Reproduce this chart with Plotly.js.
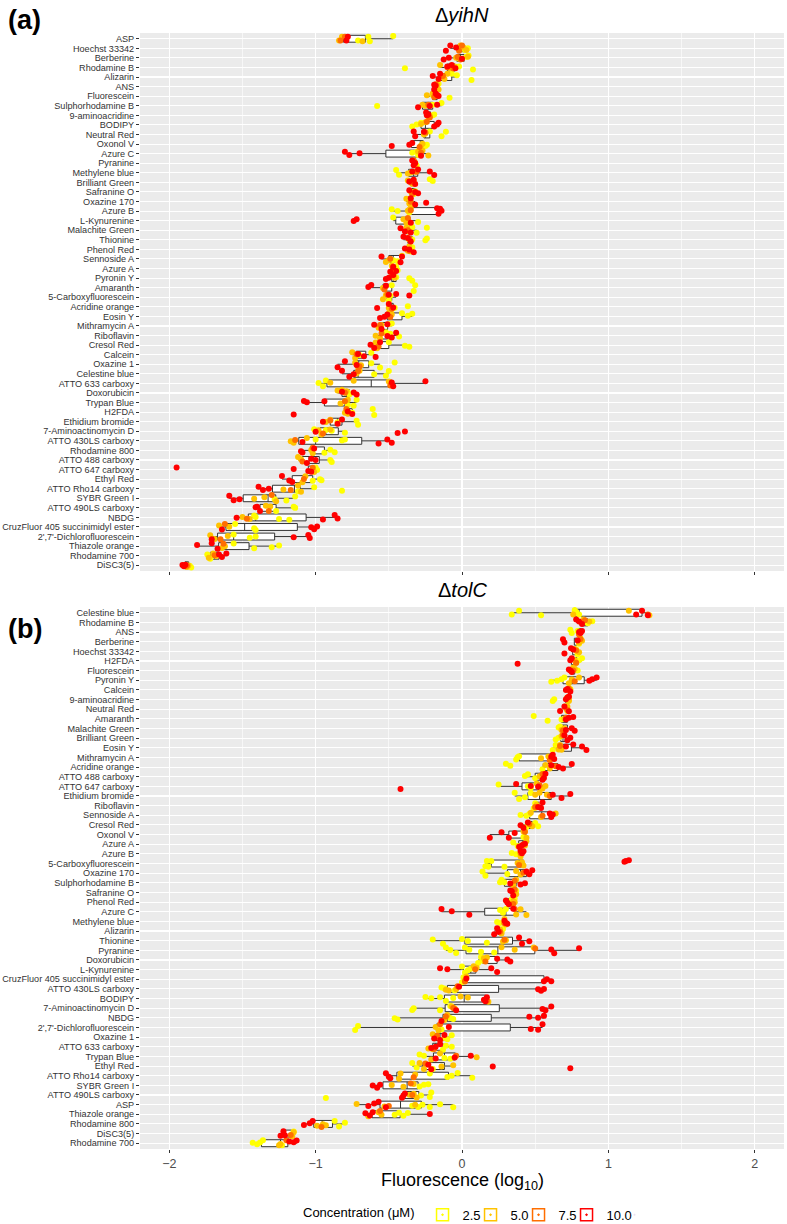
<!DOCTYPE html>
<html>
<head>
<meta charset="utf-8">
<script src="https://cdn.plot.ly/plotly-3.0.1.min.js"></script>
<style>html,body{margin:0;padding:0;background:#fff;}#chart{width:787px;height:1224px;}</style>
</head>
<body>
<div id="chart"></div>
<script>
// ---------- categories ----------
const dyesYihN = ["ASP","Hoechst 33342","Berberine","Rhodamine B","Alizarin","ANS","Fluorescein","Sulphorhodamine B","9-aminoacridine","BODIPY","Neutral Red","Oxonol V","Azure C","Pyranine","Methylene blue","Brilliant Green","Safranine O","Oxazine 170","Azure B","L-Kynurenine","Malachite Green","Thionine","Phenol Red","Sennoside A","Azure A","Pyronin Y","Amaranth","5-Carboxyfluorescein","Acridine orange","Eosin Y","Mithramycin A","Riboflavin","Cresol Red","Calcein","Oxazine 1","Celestine blue","ATTO 633 carboxy","Doxorubicin","Trypan Blue","H2FDA","Ethidium bromide","7-Aminoactinomycin D","ATTO 430LS carboxy","Rhodamine 800","ATTO 488 carboxy","ATTO 647 carboxy","Ethyl Red","ATTO Rho14 carboxy","SYBR Green I","ATTO 490LS carboxy","NBDG","CruzFluor 405 succinimidyl ester","2',7'-Dichlorofluorescein","Thiazole orange","Rhodamine 700","DiSC3(5)"];

const dyesTolC = ["Celestine blue","Rhodamine B","ANS","Berberine","Hoechst 33342","H2FDA","Fluorescein","Pyronin Y","Calcein","9-aminoacridine","Neutral Red","Amaranth","Malachite Green","Brilliant Green","Eosin Y","Mithramycin A","Acridine orange","ATTO 488 carboxy","ATTO 647 carboxy","Ethidium bromide","Riboflavin","Sennoside A","Cresol Red","Oxonol V","Azure A","Azure B","5-Carboxyfluorescein","Oxazine 170","Sulphorhodamine B","Safranine O","Phenol Red","Azure C","Methylene blue","Alizarin","Thionine","Pyranine","Doxorubicin","L-Kynurenine","CruzFluor 405 succinimidyl ester","ATTO 430LS carboxy","BODIPY","7-Aminoactinomycin D","NBDG","2',7'-Dichlorofluorescein","Oxazine 1","ATTO 633 carboxy","Trypan Blue","Ethyl Red","ATTO Rho14 carboxy","SYBR Green I","ATTO 490LS carboxy","ASP","Thiazole orange","Rhodamine 800","DiSC3(5)","Rhodamine 700"];

const concLabels = ["2.5","5.0","7.5","10.0"];
const concColors = ["#FFFF00","#FFC300","#FF6E00","#FF0000"];

// ---------- ΔyihN values (log10 fluorescence), one list per dye ----------
const yihN_2_5 = [[-0.71,-0.64,-0.47,-0.63],[0.04,0.02,0.0],[-0.02,0.045,0.03],[-0.39,-0.02,0.075],[-0.07,-0.035,0.065],[-0.17,-0.16],[-0.2,-0.085,-0.18],[-0.58,-0.14,-0.2],[-0.2,-0.19],[-0.34,-0.31,-0.28],[-0.22,-0.14,-0.11],[-0.24,-0.25],[-0.34,-0.31,-0.3],[-0.32,-0.31],[-0.45,-0.43,-0.35],[-0.22,-0.2,-0.33],[-0.33,-0.32],[-0.35,-0.36],[-0.48,-0.44,-0.36],[-0.35,-0.30,-0.47],[-0.34,-0.31,-0.24],[-0.24,-0.25,-0.34],[-0.35,-0.34],[-0.44,-0.41,-0.47],[-0.44,-0.45],[-0.36,-0.34,-0.45],[-0.48,-0.33,-0.32],[-0.5,-0.49],[-0.37,-0.48,-0.46],[-0.41,-0.37,-0.34],[-0.48,-0.5],[-0.52,-0.43,-0.49],[-0.50,-0.39,-0.36],[-0.62,-0.7],[-0.62,-0.56,-0.46],[-0.6,-0.52,-0.50],[-0.98,-0.95,-0.93],[-0.77,-0.78],[-0.74,-0.72,-0.78],[-0.61,-0.60,-0.75],[-0.72,-0.71,-0.85],[-1.01,-0.93,-0.89,-0.80],[-1.0,-0.82,-0.80],[-0.94,-0.9,-0.87],[-0.9,-0.89],[-1.0,-0.99],[-1.02,-0.97,-0.96],[-1.01,-0.82,-1.12],[-1.2,-1.14,-1.28],[-1.27,-1.15,-1.14],[-1.42,-1.41,-1.25,-1.18],[-1.55,-1.42,-1.41],[-1.56,-1.41,-1.45],[-1.56,-1.42,-1.30,-1.25],[-1.74,-1.72],[-1.86,-1.85]];
const yihN_5_0 = [[-0.84,-0.82,-0.68],[0.01,0.03,-0.01],[-0.04,0.04,0.0],[-0.15,-0.08,-0.05],[-0.12,-0.1],[-0.17,-0.16],[-0.24,-0.2],[-0.27,-0.25],[-0.23,-0.22],[-0.28,-0.25],[-0.26,-0.25],[-0.28,-0.27],[-0.27,-0.23,-0.3],[-0.33,-0.32],[-0.37,-0.32],[-0.37,-0.34],[-0.35,-0.34],[-0.38,-0.36],[-0.37,-0.35,-0.36],[-0.38,-0.37,-0.4],[-0.38,-0.36],[-0.37,-0.36],[-0.36,-0.37],[-0.52,-0.50],[-0.48,-0.47],[-0.48,-0.46],[-0.54,-0.52],[-0.54,-0.52],[-0.5,-0.49],[-0.5,-0.48],[-0.57,-0.55],[-0.59,-0.56],[-0.59,-0.58],[-0.75,-0.73],[-0.73,-0.69,-0.71],[-0.72,-0.70],[-0.9,-0.74,-0.5],[-0.85,-0.82,-0.79],[-0.83,-0.78],[-0.8,-0.78],[-0.93,-0.9],[-0.98,-0.96,-0.9],[-1.17,-1.15,-1.06],[-1.03,-1.02],[-1.12,-1.1],[-1.02,-1.01],[-1.09,-1.07],[-1.22,-1.12,-1.1],[-1.42,-1.35,-1.27],[-1.34,-1.31],[-1.5,-1.45],[-1.66,-1.59],[-1.72,-1.69,-1.6],[-1.64,-1.62],[-1.73,-1.70,-1.68],[-1.88,-1.87]];
const yihN_7_5 = [[-0.83,-0.80],[-0.02,0.0],[-0.03,-0.01],[-0.1,-0.06],[-0.13],[-0.18],[-0.19],[-0.23],[-0.22],[-0.24],[-0.25],[-0.29],[-0.28],[-0.33],[-0.31],[-0.35],[-0.34],[-0.35],[-0.35],[-0.37],[-0.37],[-0.36],[-0.36],[-0.49],[-0.47],[-0.47],[-0.53],[-0.51],[-0.48],[-0.49],[-0.56],[-0.55],[-0.57],[-0.72],[-0.7],[-0.71],[-0.49],[-0.8],[-0.8],[-0.79],[-0.9],[-0.95],[-1.14],[-1.02],[-1.09],[-1.02],[-1.08],[-1.17],[-1.3],[-1.32],[-1.47],[-1.62],[-1.65],[-1.63],[-1.69],[-1.88]];
const yihN_10_0 = [[-0.78,-0.79],[-0.11,-0.08,-0.04],[-0.125,-0.09,0.0],[-0.10,-0.045,-0.07],[-0.2,-0.15,-0.16],[-0.19,-0.18,-0.19],[-0.17,-0.16,-0.18],[-0.30,-0.22,-0.17],[-0.245,-0.24,-0.23],[-0.19,-0.17,-0.16],[-0.33,-0.32,-0.26],[-0.48,-0.36,-0.34],[-0.8,-0.77,-0.70,-0.28],[-0.34,-0.32,-0.33],[-0.34,-0.30,-0.22,-0.19],[-0.36,-0.33,-0.32],[-0.36,-0.32,-0.30],[-0.35,-0.32,-0.245],[-0.17,-0.15,-0.14,-0.16],[-0.74,-0.72,-0.35],[-0.42,-0.39,-0.35],[-0.40,-0.37,-0.35],[-0.39,-0.36,-0.33],[-0.55,-0.42,-0.41],[-0.49,-0.47,-0.45],[-0.52,-0.50,-0.47],[-0.64,-0.62,-0.52],[-0.5,-0.45,-0.36],[-0.58,-0.50,-0.47],[-0.56,-0.53,-0.51],[-0.6,-0.55,-0.51],[-0.51,-0.48,-0.45],[-0.625,-0.6,-0.56],[-0.71,-0.67,-0.59],[-0.85,-0.80,-0.72],[-0.82,-0.77,-0.74],[-0.48,-0.47,-0.25],[-0.82,-0.74,-0.72],[-1.08,-1.06,-0.94],[-1.15,-0.78,-0.75],[-0.95,-0.85,-0.82],[-1.0,-0.44,-0.39],[-1.09,-0.57,-0.51,-0.48],[-1.1,-1.09,-1.01],[-1.06,-1.03,-1.0],[-1.95,-1.15,-1.05,-1.03],[-1.23,-1.18,-1.16],[-1.39,-1.36,-1.32],[-1.59,-1.56,-1.52],[-1.41,-1.40,-1.38],[-1.54,-0.95,-0.87,-0.85],[-1.64,-1.03,-1.01,-0.99],[-1.71,-1.15,-1.05,-1.04],[-1.81,-1.71,-1.67],[-1.66,-1.64,-1.61],[-1.91,-1.90,-1.89]];

// ---------- ΔtolC values ----------
const tolC_2_5 = [[0.34,0.39,0.54,0.77,0.78,0.80],[0.85,0.89,0.86],[0.74,0.75,0.79],[0.81,0.80],[0.78,0.79],[0.80,0.82],[0.77,0.79],[0.61,0.65,0.68,0.70],[0.73,0.74],[0.62,0.63,0.72],[0.71,0.72],[0.49,0.585,0.68],[0.66,0.67],[0.64,0.66],[0.62,0.64],[0.37,0.38,0.39],[0.30,0.33,0.55],[0.43,0.45,0.50],[0.25,0.45,0.47],[0.36,0.39,0.43,0.47],[0.49,0.50],[0.40,0.44,0.46],[0.44,0.50,0.52],[0.42,0.43],[0.35,0.38],[0.34,0.37],[0.16,0.17,0.18,0.20,0.29],[0.14,0.16,0.31],[0.26,0.27,0.29],[0.36,0.37],[0.34,0.36],[0.26,0.28,0.30],[0.24,0.26],[0.27,0.28],[-0.20,-0.13,0.0,0.04,0.17],[-0.11,-0.08,-0.04,0.02,0.05,0.13,0.22],[0.11,0.13,0.14],[0.0,0.02,0.04,0.06],[0.0,0.01],[-0.14,-0.12,-0.05],[-0.25,-0.21,-0.15,-0.11,-0.06],[-0.34,-0.33,-0.15,-0.08],[-0.46,-0.44,-0.08,-0.06],[-0.73,-0.71,-0.14],[-0.10,-0.07,-0.12],[-0.11,-0.07,-0.13],[-0.29,-0.26,-0.08,-0.12],[-0.34,-0.31,-0.2],[-0.22,-0.10,-0.07,-0.03,0.07],[-0.29,-0.26,-0.23],[-0.93,-0.28,-0.22,-0.21],[-0.34,-0.30,-0.27,-0.22,-0.15,-0.06],[-0.46,-0.43,-0.40,-0.37],[-0.87,-0.84,-0.80],[-1.15,-1.16],[-1.43,-1.40,-1.38,-1.36,-1.23]];
const tolC_5_0 = [[0.76,1.14,1.28],[0.83,0.87],[0.80,0.81],[0.80,0.82],[0.77,0.80],[0.78,0.77],[0.76,0.77],[0.73,0.75,0.80],[0.73,0.74],[0.73,0.73],[0.71,0.72],[0.70,0.72],[0.68,0.70],[0.68,0.69],[0.66,0.67,0.68],[0.54,0.59],[0.57,0.60],[0.53,0.55],[0.51,0.55,0.57],[0.50,0.53,0.58],[0.50,0.51],[0.47,0.54,0.64],[0.47,0.48],[0.42,0.44],[0.43,0.44],[0.40,0.41],[0.38,0.40,0.41,0.42],[0.37,0.40],[0.35,0.37],[0.36,0.37],[0.35,0.36],[0.37,0.40,0.44],[0.29,0.30],[0.26,0.27],[0.28,0.30],[0.27,0.36,0.49],[0.15,0.17],[0.08,0.10],[0.02,0.03],[-0.11,-0.09,-0.04],[-0.01,0.04,0.18],[-0.07,-0.05],[-0.12,-0.10],[-0.18,-0.16],[-0.20,-0.18],[-0.23,-0.20],[-0.21,-0.15,0.10],[-0.29,-0.26,-0.14,-0.06],[-0.43,-0.42,-0.32],[-0.48,-0.40,-0.33],[-0.36,-0.33,-0.31],[-0.72,-0.53,-0.32],[-0.64,-0.57,-0.55],[-0.99,-0.95,-0.93],[-1.16,-1.15],[-1.25,-1.24]];
const tolC_7_5 = [[1.27],[0.84],[0.8],[0.81],[0.78],[0.78],[0.76],[0.77],[0.73],[0.73],[0.72],[0.71],[0.69],[0.69],[0.67],[0.6],[0.64],[0.55],[0.53],[0.6],[0.5],[0.55],[0.46],[0.43],[0.42],[0.4],[0.39],[0.42],[0.36],[0.36],[0.35],[0.36],[0.29],[0.26],[0.29],[0.5],[0.16],[0.09],[0.02],[-0.03],[0.17],[-0.06],[-0.11],[-0.15],[-0.17],[-0.19],[-0.04],[-0.25],[-0.33],[-0.35],[-0.34],[-0.5],[-0.56],[-0.96],[-1.17],[-1.2]];
const tolC_10_0 = [[1.19,1.23,1.27],[0.78,0.80,0.82],[0.80,0.82,0.81],[0.69,0.70,0.79],[0.70,0.745,0.76],[0.38,0.74,0.75],[0.73,0.74,0.75],[0.87,0.89,0.92],[0.71,0.72,0.74],[0.71,0.72,0.73],[0.67,0.70,0.73],[0.71,0.73,0.76],[0.71,0.75,0.77],[0.70,0.72,0.74],[0.71,0.76,0.82,0.85],[0.61,0.62,0.63],[0.61,0.66,0.69,0.75],[0.55,0.56,0.57],[-0.42,0.37,0.47,0.52],[0.62,0.68,0.74],[0.52,0.54,0.55],[0.60,0.61,0.62],[0.40,0.42,0.45],[0.19,0.27,0.32,0.36],[0.39,0.41,0.43],[0.40,0.41,0.42],[1.11,1.12,1.14],[0.44,0.46,0.48],[0.33,0.40,0.43],[0.33,0.34,0.35],[0.30,0.31,0.32],[-0.14,-0.07,0.05,0.35],[0.29,0.30,0.31],[0.22,0.24,0.25],[0.39,0.41,0.46],[0.61,0.63,0.80],[0.24,0.31,0.33],[-0.15,-0.10,0.20,0.24],[0.03,0.56,0.58,0.61],[-0.02,0.52,0.54,0.56],[0.15,0.16,0.17],[-0.04,0.55,0.57,0.61],[-0.14,0.46,0.52,0.56],[-0.09,0.47,0.52,0.55],[-0.19,-0.15,-0.12],[-0.21,-0.18,-0.15],[-0.18,-0.05,0.06],[-0.23,-0.21,0.21,0.74],[-0.52,-0.50,-0.49],[-0.61,-0.58,-0.56],[-0.41,-0.40,-0.39],[-0.64,-0.60,-0.57,-0.52],[-0.66,-0.63,-0.61,-0.22],[-1.08,-1.04,-1.02],[-1.24,-1.22,-1.21],[-1.18,-1.15,-1.13]];

// ---------- build traces ----------
const FONT = "Liberation Sans, Arial, Helvetica, sans-serif";
function flatten(dyes, lists) {
  const x = [], y = [];
  lists.forEach((vals, i) => vals.forEach(v => { x.push(v); y.push(dyes[i]); }));
  return {x, y};
}
// quantile (linear interpolation) and Tukey whiskers, computed from the values above
function quant(s, p) { const h = (s.length - 1) * p, lo = Math.floor(h); return lo + 1 < s.length ? s[lo] + (h - lo) * (s[lo + 1] - s[lo]) : s[lo]; }
function boxStats(dyes, seriesList) {
  const st = {q1: [], med: [], q3: [], lf: [], uf: []};
  dyes.forEach((d, i) => {
    const v = [];
    seriesList.forEach(s => v.push(...s[i]));
    v.sort((a, b) => a - b);
    const q1 = quant(v, 0.25), q3 = quant(v, 0.75), iqr = q3 - q1;
    st.q1.push(q1); st.med.push(quant(v, 0.5)); st.q3.push(q3);
    st.lf.push(Math.min(...v.filter(x => x >= q1 - 1.5 * iqr)));
    st.uf.push(Math.max(...v.filter(x => x <= q3 + 1.5 * iqr)));
  });
  return st;
}
const panels = [
  {dyes: dyesYihN, series: [yihN_2_5, yihN_5_0, yihN_7_5, yihN_10_0], xa: "x", ya: "y"},
  {dyes: dyesTolC, series: [tolC_2_5, tolC_5_0, tolC_7_5, tolC_10_0], xa: "x2", ya: "y2"}
];
const traces = [];
panels.forEach(p => {
  const st = boxStats(p.dyes, p.series);
  traces.push({
    type: "box", orientation: "h", y: p.dyes, xaxis: p.xa, yaxis: p.ya,
    q1: st.q1, median: st.med, q3: st.q3, lowerfence: st.lf, upperfence: st.uf,
    boxpoints: false, fillcolor: "white", line: {color: "#333333", width: 1},
    whiskerwidth: 0, width: 0.72, showlegend: false, hoverinfo: "skip"
  });
  p.series.forEach((s, k) => {
    const f = flatten(p.dyes, s);
    traces.push({
      type: "box", orientation: "h", x: f.x, y: f.y, xaxis: p.xa, yaxis: p.ya,
      boxpoints: "all", jitter: 0.85, pointpos: 0, width: 0.8,
      fillcolor: "rgba(0,0,0,0)", line: {color: "rgba(0,0,0,0)", width: 0},
      marker: {color: concColors[k], size: 6, opacity: 1},
      showlegend: false, hoverinfo: "skip"
    });
  });
});
concLabels.forEach((c, k) => {
  traces.push({
    type: "scatter", mode: "markers", x: [null], y: [null], xaxis: "x2", yaxis: "y2",
    name: c, marker: {symbol: "square-open-dot", size: 12, color: concColors[k], line: {width: 1.5, color: concColors[k]}},
    showlegend: true
  });
});
// empty spacer entry so the last label is not clipped by the legend box
traces.push({type: "scatter", mode: "markers", x: [null], y: [null], xaxis: "x2", yaxis: "y2",
  name: " ", marker: {opacity: 0, size: 1}, showlegend: true});

function xAxis(extra) {
  return Object.assign({
    range: [-2.2, 2.2], dtick: 1, tick0: 0, showgrid: true, gridcolor: "white", gridwidth: 1.2,
    zeroline: false, showline: false, ticks: "outside", ticklen: 3, tickwidth: 1, tickcolor: "#333333",
    tickfont: {family: FONT, size: 12.5, color: "#4D4D4D"},
    minor: {dtick: 0.5, tick0: 0, showgrid: true, gridcolor: "white", gridwidth: 0.6, ticks: ""}
  }, extra);
}
function yAxis(dyes, domain, anchor) {
  return {
    domain: domain, anchor: anchor, type: "category", categoryorder: "array", categoryarray: dyes,
    tickmode: "array", tickvals: dyes, ticktext: dyes,
    range: [dyes.length - 0.4, -0.6], autorange: false,
    showgrid: true, gridcolor: "white", gridwidth: 1.1, zeroline: false, showline: false,
    ticks: "outside", ticklen: 3, tickwidth: 1, tickcolor: "#333333",
    tickfont: {family: FONT, size: 9.1, color: "#333333"}
  };
}

const layout = {
  width: 787, height: 1224,
  margin: {l: 140, r: 3, t: 33, b: 75, autoexpand: false},
  paper_bgcolor: "white", plot_bgcolor: "#EBEBEB",
  font: {family: FONT, color: "#000"},
  boxmode: "overlay", hovermode: false,
  xaxis: xAxis({anchor: "y", showticklabels: false}),
  xaxis2: xAxis({anchor: "y2"}),
  yaxis: yAxis(dyesYihN, [0.5179, 1], "x"),
  yaxis2: yAxis(dyesTolC, [0, 0.4857], "x2"),
  legend: {
    orientation: "h", x: 0.25, xanchor: "left", y: -0.059, yanchor: "middle",
    entrywidth: 3, entrywidthmode: "pixels", itemwidth: 30,
    title: {text: "Concentration (μM)", font: {family: FONT, size: 13, color: "#000"}},
    font: {family: FONT, size: 13, color: "#000"}, bgcolor: "rgba(0,0,0,0)"
  },
  annotations: [
    {text: "Fluorescence (log<sub>10</sub>)", xref: "paper", yref: "paper", x: 0.5, y: -0.0287, xanchor: "center", yanchor: "middle", showarrow: false, font: {family: FONT, size: 18, color: "#000"}},
    {text: "Δ<i>yihN</i>", xref: "paper", yref: "paper", x: 0.5, y: 1.0161, xanchor: "center", yanchor: "middle", showarrow: false, font: {family: FONT, size: 20, color: "#000"}},
    {text: "Δ<i>tolC</i>", xref: "paper", yref: "paper", x: 0.5, y: 0.5009, xanchor: "center", yanchor: "middle", showarrow: false, font: {family: FONT, size: 20, color: "#000"}},
    {text: "<b>(a)</b>", xref: "paper", yref: "paper", x: -0.208, y: 1.0116, xanchor: "left", yanchor: "middle", showarrow: false, font: {family: FONT, size: 27, color: "#000"}},
    {text: "<b>(b)</b>", xref: "paper", yref: "paper", x: -0.208, y: 0.466, xanchor: "left", yanchor: "middle", showarrow: false, font: {family: FONT, size: 27, color: "#000"}}
  ]
};

Plotly.newPlot("chart", traces, layout, {displayModeBar: false, staticPlot: true});
</script>
</body>
</html>
